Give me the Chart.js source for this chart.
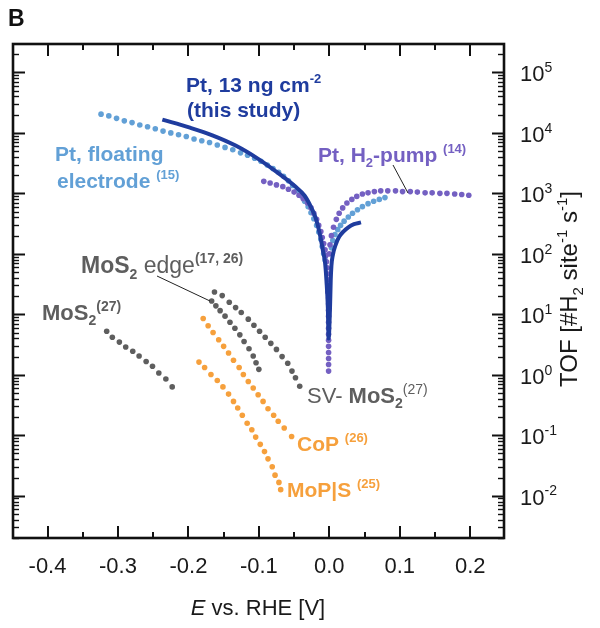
<!DOCTYPE html>
<html>
<head>
<meta charset="utf-8">
<script src="https://cdn.jsdelivr.net/npm/chart.js@4.4.1/dist/chart.umd.min.js"></script>
<style>
  html, body { margin: 0; padding: 0; background: #fff; }
</style>
</head>
<body>
<canvas id="tofChart" width="600" height="628"></canvas>
<script>
// E vs. RHE [V] and TOF [#H2 site^-1 s^-1]

// Pt, 13 ng cm-2 (this study) - solid line
const ptThisStudyE = [-0.237, -0.199, -0.166, -0.133, -0.101, -0.072, -0.049, -0.035, -0.025, -0.019, -0.013, -0.009, -0.006, -0.004, -0.002, -0.001,
  0.001, 0.002, 0.003, 0.005, 0.009, 0.014, 0.020, 0.027, 0.035, 0.045];
const ptThisStudyTOF = [16600, 12300, 9120, 6170, 3720, 2140, 1320, 912, 562, 380, 200, 112, 70.8, 35.5, 12.6, 3.98,
  12.6, 35.5, 63.1, 95.5, 141, 191, 234, 275, 309, 331];

// Pt, floating electrode (15)
const ptFloatingE = [-0.324, -0.313, -0.302, -0.291, -0.280, -0.269, -0.258, -0.247, -0.236, -0.225, -0.214, -0.203, -0.192, -0.181, -0.170,
  -0.159, -0.148, -0.137, -0.126, -0.116, -0.106, -0.097, -0.088, -0.080, -0.072, -0.065, -0.058, -0.052, -0.046, -0.040,
  -0.035, -0.030, -0.026, -0.022, -0.018, -0.015, -0.012, -0.010, -0.008, -0.006,
  0.003, 0.005, 0.008, 0.012, 0.016, 0.021, 0.027, 0.033, 0.040, 0.047, 0.055, 0.063, 0.071, 0.079];
const ptFloatingTOF = [20400, 19100, 17400, 15800, 14800, 13500, 12600, 11700, 10700, 10000, 9330, 8710, 7940, 7410, 6920,
  6310, 5750, 5250, 4680, 4270, 3800, 3390, 2950, 2570, 2240, 1910, 1620, 1350, 1120, 912,
  741, 603, 479, 380, 295, 229, 174, 132, 100, 79.4,
  126, 166, 209, 251, 295, 347, 407, 468, 537, 603, 676, 741, 794, 851];

// Pt, H2-pump (14)
const ptPumpE = [-0.093, -0.084, -0.075, -0.066, -0.058, -0.050, -0.043, -0.037, -0.031, -0.026, -0.022, -0.018, -0.015, -0.012, -0.010,
  -0.008, -0.006, -0.005, -0.004, -0.003, -0.003, -0.002, -0.002, -0.002, -0.001, -0.001, -0.001, -0.001, -0.001, -0.001,
  -0.001, -0.001, -0.001, -0.001, -0.001, -0.001, -0.001,
  0.000, 0.001, 0.003, 0.006, 0.010, 0.014, 0.019, 0.025, 0.032, 0.039, 0.047, 0.055, 0.064,
  0.073, 0.083, 0.094, 0.104, 0.115, 0.125, 0.136, 0.146, 0.157, 0.167, 0.178, 0.188, 0.198];
const ptPumpTOF = [1580, 1480, 1380, 1290, 1170, 1050, 933, 813, 692, 575, 468, 372, 295, 234, 186,
  148, 117, 93.3, 74.1, 58.9, 46.8, 37.2, 29.5, 23.4, 18.6, 14.8, 11.7, 9.33, 7.41, 5.89,
  4.68, 3.72, 2.95, 2.34, 1.86, 1.48, 1.15,
  100, 141, 200, 275, 372, 468, 575, 692, 794, 891, 977, 1020, 1070,
  1100, 1100, 1100, 1070, 1070, 1050, 1020, 1020, 1000, 1000, 977, 955, 933];

// MoS2 (27)
const mos2E = [-0.316, -0.308, -0.298, -0.289, -0.279, -0.270, -0.260, -0.251, -0.242, -0.232, -0.223];
const mos2TOF = [5.25, 4.17, 3.47, 2.88, 2.45, 2.04, 1.66, 1.38, 1.07, 0.851, 0.631];

// MoS2 edge (17, 26)
const mos2EdgeE = [-0.167, -0.161, -0.155, -0.148, -0.141, -0.134, -0.127, -0.121, -0.114, -0.108, -0.104, -0.100];
const mos2EdgeTOF = [16.6, 13.8, 11.5, 9.33, 7.41, 5.89, 4.57, 3.55, 2.69, 2.04, 1.58, 1.23];

// SV-MoS2 (27)
const svMos2E = [-0.163, -0.152, -0.142, -0.133, -0.125, -0.115, -0.107, -0.099, -0.091, -0.083, -0.075, -0.067, -0.059, -0.053, -0.048, -0.042];
const svMos2TOF = [23.4, 20.4, 15.8, 12.9, 10.7, 8.32, 6.61, 5.25, 4.17, 3.31, 2.63, 2.00, 1.55, 1.15, 0.891, 0.646];

// CoP (26)
const copE = [-0.179, -0.172, -0.165, -0.157, -0.150, -0.143, -0.136, -0.128, -0.122, -0.115, -0.108, -0.101, -0.094, -0.087, -0.079, -0.0725, -0.064, -0.0535];
const copTOF = [8.51, 6.46, 5.01, 3.80, 2.95, 2.29, 1.74, 1.32, 1.01, 0.776, 0.603, 0.468, 0.363, 0.275, 0.214, 0.170, 0.132, 0.0955];

// MoP|S (25)
const mopsE = [-0.185, -0.177, -0.168, -0.159, -0.151, -0.143, -0.136, -0.130, -0.1235, -0.1166, -0.110, -0.1045, -0.098, -0.092, -0.087, -0.081, -0.077, -0.0715, -0.069];
const mopsTOF = [1.62, 1.32, 1.01, 0.804, 0.631, 0.479, 0.363, 0.282, 0.214, 0.158, 0.123, 0.0933, 0.0708, 0.0537, 0.0407, 0.0302, 0.0219, 0.0166, 0.0126];

// axes
const xTickValues = [-0.4, -0.3, -0.2, -0.1, 0.0, 0.1, 0.2];
const xTickLabels = ['-0.4', '-0.3', '-0.2', '-0.1', '0.0', '0.1', '0.2'];
const yTickExponents = [-2, -1, 0, 1, 2, 3, 4, 5];
const xMin = -0.449, xMax = 0.248;
const yMin = 0.002, yMax = 295000;

const FAM = "'Liberation Sans', Arial, Helvetica, sans-serif";
const darkBlue = '#1f3c9e';
const lightBlue = '#62a0d6';
const purple = '#7460c2';
const grey = '#5e5e5e';
const orange = '#f6a03c';

const pairs = (xs, ys) => xs.map((v, i) => ({ x: v, y: ys[i] }));

const dotted = (label, xs, ys, color) => ({
  label: label,
  data: pairs(xs, ys),
  showLine: false,
  pointRadius: 2.8,
  pointBackgroundColor: color,
  pointBorderWidth: 0,
  pointHoverRadius: 2.8
});

// text with bold / italic / sub / sup runs: style letters B, I, ^ (sup), _ (sub)
function drawRich(ctx, x, y, parts, size, color, align) {
  const items = parts.map(([t, s]) => {
    const small = s.includes('^') || s.includes('_');
    const fs = small ? Math.round(size * 0.62) : size;
    const font = (s.includes('I') ? 'italic ' : '') + (s.includes('B') ? 'bold ' : '') + fs + 'px ' + FAM;
    ctx.font = font;
    const dy = s.includes('^') ? -size * 0.42 : (s.includes('_') ? size * 0.24 : 0);
    return { t, font, dy, w: ctx.measureText(t).width };
  });
  const total = items.reduce((s, it) => s + it.w, 0);
  let cx = align === 'center' ? x - total / 2 : (align === 'right' ? x - total : x);
  ctx.fillStyle = color;
  ctx.textAlign = 'left';
  ctx.textBaseline = 'alphabetic';
  items.forEach(it => {
    ctx.font = it.font;
    ctx.fillText(it.t, cx, y + it.dy);
    cx += it.w;
  });
}

const annotations = [
  { x: 186, y: 92, size: 21, color: darkBlue, parts: [['Pt, 13 ng cm', 'B'], ['-2', 'B^']] },
  { x: 187, y: 117, size: 21, color: darkBlue, parts: [['(this study)', 'B']] },
  { x: 55, y: 161, size: 21, color: lightBlue, parts: [['Pt, floating', 'B']] },
  { x: 57, y: 188, size: 21, color: lightBlue, parts: [['electrode ', 'B'], ['(15)', 'B^']] },
  { x: 318, y: 162, size: 21, color: purple, parts: [['Pt, H', 'B'], ['2', 'B_'], ['-pump ', 'B'], ['(14)', 'B^']] },
  { x: 81, y: 273, size: 23, color: grey, parts: [['MoS', 'B'], ['2', 'B_'], [' edge', ''], ['(17, 26)', 'B^']] },
  { x: 42, y: 320, size: 22, color: grey, parts: [['MoS', 'B'], ['2', 'B_'], ['(27)', 'B^']] },
  { x: 307, y: 403, size: 22, color: grey, parts: [['SV- ', ''], ['MoS', 'B'], ['2', 'B_'], ['(27)', '^']] },
  { x: 297, y: 451, size: 21, color: orange, parts: [['CoP ', 'B'], ['(26)', 'B^']] },
  { x: 287, y: 497, size: 21, color: orange, parts: [['MoP|S ', 'B'], ['(25)', 'B^']] }
];

const calloutLines = [
  [157, 276, 210, 301],
  [393, 165, 408, 193]
];

const frameAndText = {
  id: 'frameAndText',
  afterDraw(chart) {
    const ctx = chart.ctx;
    const a = chart.chartArea;
    const x = chart.scales.x;
    const y = chart.scales.y;
    ctx.save();
    ctx.strokeStyle = '#111';
    ctx.lineCap = 'butt';

    const seg = (x1, y1, x2, y2) => {
      ctx.beginPath();
      ctx.moveTo(x1, y1);
      ctx.lineTo(x2, y2);
      ctx.stroke();
    };

    // inward ticks, top and bottom
    ctx.lineWidth = 2;
    for (let k = -9; k <= 5; k++) {
      const v = k * 0.05;
      if (v < xMin || v > xMax) continue;
      const px = Math.round(x.getPixelForValue(v));
      const len = k % 2 === 0 ? 12 : 6;
      seg(px, a.bottom, px, a.bottom - len);
      seg(px, a.top, px, a.top + len);
    }
    // inward ticks, left and right (log decades + minors)
    for (let e = -3; e <= 5; e++) {
      for (let m = 1; m <= 9; m++) {
        const v = m * Math.pow(10, e);
        if (v < yMin || v > yMax) continue;
        const py = Math.round(y.getPixelForValue(v)) + 0.5;
        const len = m === 1 ? 12 : 6;
        ctx.lineWidth = m === 1 ? 2 : 1.4;
        seg(a.left, py, a.left + len, py);
        seg(a.right, py, a.right - len, py);
      }
    }

    // frame
    ctx.lineWidth = 2.6;
    ctx.strokeRect(a.left, a.top, a.right - a.left, a.bottom - a.top);

    // y tick labels (right)
    yTickExponents.forEach(ex => {
      const py = y.getPixelForValue(Math.pow(10, ex));
      drawRich(ctx, a.right + 16, py + 9, [['10', ''], [String(ex), '^']], 22, '#1a1a1a', 'left');
    });

    // y title, reading bottom to top
    ctx.save();
    ctx.translate(577, 289);
    ctx.rotate(-Math.PI / 2);
    drawRich(ctx, 0, 0, [['TOF [#H', ''], ['2', '_'], [' site', ''], ['-1', '^'], [' s', ''], ['-1', '^'], [']', '']], 24, '#1a1a1a', 'center');
    ctx.restore();

    // x title
    drawRich(ctx, 258, 615, [['E', 'I'], [' vs. RHE [V]', '']], 22, '#1a1a1a', 'center');

    // panel letter
    drawRich(ctx, 8, 26, [['B', 'B']], 23, '#111', 'left');

    // callout lines
    ctx.strokeStyle = '#222';
    ctx.lineWidth = 1;
    calloutLines.forEach(l => seg(l[0], l[1], l[2], l[3]));

    // series labels
    annotations.forEach(an => drawRich(ctx, an.x, an.y, an.parts, an.size, an.color, 'left'));
    ctx.restore();
  }
};

new Chart(document.getElementById('tofChart'), {
  type: 'scatter',
  data: {
    datasets: [
      {
        label: 'Pt, 13 ng cm-2 (this study)',
        data: pairs(ptThisStudyE, ptThisStudyTOF),
        showLine: true,
        borderColor: darkBlue,
        borderWidth: 4,
        pointRadius: 0,
        pointHoverRadius: 0,
        cubicInterpolationMode: 'monotone'
      },
      dotted('Pt, H2-pump (14)', ptPumpE, ptPumpTOF, purple),
      dotted('Pt, floating electrode (15)', ptFloatingE, ptFloatingTOF, lightBlue),
      dotted('MoS2 (27)', mos2E, mos2TOF, grey),
      dotted('MoS2 edge (17, 26)', mos2EdgeE, mos2EdgeTOF, grey),
      dotted('SV-MoS2 (27)', svMos2E, svMos2TOF, grey),
      dotted('CoP (26)', copE, copTOF, orange),
      dotted('MoP|S (25)', mopsE, mopsTOF, orange)
    ]
  },
  options: {
    responsive: false,
    animation: false,
    devicePixelRatio: 1,
    layout: { padding: { left: 13, top: 44, right: 0, bottom: 0 } },
    plugins: {
      legend: { display: false },
      tooltip: { enabled: false }
    },
    scales: {
      x: {
        type: 'linear',
        position: 'bottom',
        min: xMin,
        max: xMax,
        grid: { display: false },
        border: { display: false },
        afterBuildTicks: (s) => { s.ticks = xTickValues.map(v => ({ value: v })); },
        ticks: {
          padding: 8,
          color: '#1a1a1a',
          font: { family: FAM, size: 22 },
          maxRotation: 0,
          autoSkip: false,
          callback: (v) => {
            const i = xTickValues.findIndex(t => Math.abs(t - v) < 1e-6);
            return i >= 0 ? xTickLabels[i] : null;
          }
        },
        afterFit: (s) => { s.height = 90; }
      },
      y: {
        type: 'logarithmic',
        position: 'right',
        min: yMin,
        max: yMax,
        grid: { display: false },
        border: { display: false },
        ticks: { display: false },
        afterFit: (s) => { s.width = 96; }
      }
    }
  },
  plugins: [frameAndText]
});
</script>
</body>
</html>
